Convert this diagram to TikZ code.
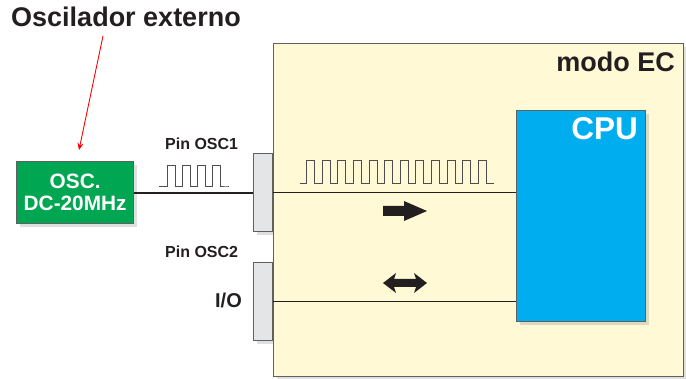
\documentclass[tikz,border=0pt]{standalone}
\usepackage{fontspec}
\setmainfont{Liberation Sans}
\usetikzlibrary{shadows,arrows.meta}
\definecolor{cream}{HTML}{FFF9D5}
\definecolor{oscgreen}{HTML}{00A651}
\definecolor{cpublue}{HTML}{00AEEF}
\definecolor{pingray}{HTML}{E4E5E7}
\definecolor{edge}{HTML}{5F6062}
\definecolor{ink}{HTML}{231F20}
\tikzset{
  box/.style={draw=edge, line width=1.3pt, anchor=north west, inner sep=0pt, minimum width=#1},
  shade/.style={drop shadow={opacity=0.25, shadow xshift=3pt, shadow yshift=-3pt}},
  lbl/.style={text=ink, font=\bfseries, inner sep=0pt},
  wave/.style={draw=ink!80, line width=1pt},
  sig/.style={draw=ink, line width=1pt},
  fat/.style={fill=ink, draw=none}
}
\begin{document}
\begin{tikzpicture}[x=1pt,y=-1pt]
\useasboundingbox (0,0) rectangle (686,379);
% pins (behind main box)
\node[box=19pt, minimum height=78pt, fill=pingray, shade] (pin1) at (253,153) {};
\node[box=19pt, minimum height=78pt, fill=pingray, shade] (pin2) at (253,262) {};
% main box
\node[box=410pt, minimum height=333pt, fill=cream, shade] (main) at (273,43) {};
\node[lbl, font=\bfseries\fontsize{27}{31}\selectfont, anchor=base east] (mode) at (675,72) {modo EC};
% CPU
\node[box=129pt, minimum height=211pt, fill=cpublue, shade] (cpu) at (516,110) {};
\node[lbl, text=white, font=\bfseries\fontsize{31.5}{35}\selectfont, anchor=base east] (cputxt) at (638,140) {CPU};
% oscillator
\node[box=117pt, minimum height=62pt, fill=oscgreen, shade] (osc) at (16,161) {};
\node[lbl, text=white, font=\bfseries\fontsize{20.8}{23}\selectfont, align=center] (osctxt) at (osc.center) {OSC.\\[-1pt]DC-20MHz};
% title
\node[lbl, font=\bfseries\fontsize{27}{31}\selectfont, anchor=base west] (title) at (11,27) {Oscilador externo};
\coordinate (rs) at (103,36);
\coordinate (re) at (79,150);
\draw[red, line width=0.9pt, -{Stealth[length=7pt,width=6pt]}] (rs) -- (re);
% labels
\node[lbl, font=\bfseries\fontsize{16}{19}\selectfont, anchor=base west] (p1) at (165,150) {Pin OSC1};
\node[lbl, font=\bfseries\fontsize{16}{19}\selectfont, anchor=base west] (p2) at (165,258) {Pin OSC2};
\node[lbl, font=\bfseries\fontsize{20}{24}\selectfont, anchor=base east] (io) at (242,308) {I/O};
% connections
\draw[sig, line width=2pt] (osc.east) -- (osc.east -| pin1.west);
\draw[sig] (pin1.east) -- (pin1.east -| cpu.west);
\draw[sig] (pin2.east) -- (pin2.east -| cpu.west);
% external pulses
\draw[wave] (159,187) -- (167,187)
  \foreach \i in {0,1,2,3} { -- ({167+15*\i},166) -- ({175+15*\i},166) -- ({175+15*\i},187) -- ({182+15*\i},187) }
  -- (229,187);
% internal pulses
\draw[wave] (300,184)
  \foreach \i in {0,...,11} { -- ({306.7+15.6*\i},184) -- ({306.7+15.6*\i},161) -- ({314.7+15.6*\i},161) -- ({314.7+15.6*\i},184) }
  -- (494,184);
% right fat arrow
\fill[fat] (383,206) -- (404,206) -- (404,201) -- (427,211) -- (404,221) -- (404,216) -- (383,216) -- cycle;
% double fat arrow
\fill[fat] (383,283) -- (396,273) -- (394,279) -- (416,279) -- (414,273) -- (427,283) -- (414,293) -- (416,287) -- (394,287) -- (396,293) -- cycle;
\end{tikzpicture}
\end{document}
